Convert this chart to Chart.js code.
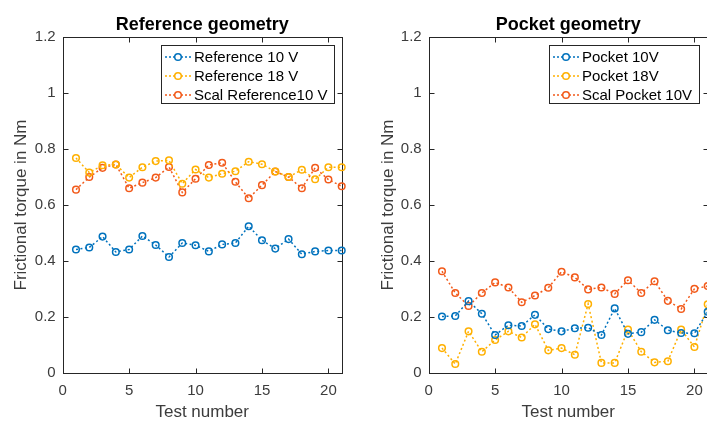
<!DOCTYPE html>
<html><head><meta charset="utf-8">
<script src="https://cdn.jsdelivr.net/npm/chart.js@4.4.1/dist/chart.umd.min.js"></script>
<style>
html,body{margin:0;padding:0;background:#fff;overflow:hidden;width:707px;height:421px;}
#wrap{position:relative;width:707px;height:421px;overflow:hidden;background:#fff;}
.c{position:absolute;top:0;width:360px;height:421px;}
</style></head><body>
<div id="wrap">
<div class="c" style="left:0"><canvas id="left" width="360" height="421"></canvas></div>
<div class="c" style="left:360px"><canvas id="right" width="360" height="421"></canvas></div>
</div>
<script>
// ---- data ----
const testNumbers = [1,2,3,4,5,6,7,8,9,10,11,12,13,14,15,16,17,18,19,20,21];
const xTickValues = [0,5,10,15,20];
const yTickValues = [0,0.2,0.4,0.6,0.8,1,1.2];

const leftTitle = 'Reference geometry';
const rightTitle = 'Pocket geometry';
const xAxisTitle = 'Test number';
const yAxisTitle = 'Frictional torque in Nm';

const leftLabels = ['Reference 10 V','Reference 18 V','Scal Reference10 V'];
const rightLabels = ['Pocket 10V','Pocket 18V','Scal Pocket 10V'];

const reference10V = [0.441,0.448,0.487,0.432,0.441,0.489,0.457,0.414,0.464,0.456,0.434,0.459,0.464,0.524,0.474,0.444,0.478,0.424,0.434,0.437,0.437];
const reference18V = [0.768,0.716,0.742,0.745,0.698,0.735,0.757,0.760,0.676,0.727,0.698,0.712,0.721,0.755,0.746,0.720,0.700,0.726,0.692,0.735,0.735];
const scalReference10V = [0.655,0.700,0.733,0.745,0.660,0.680,0.698,0.736,0.645,0.694,0.743,0.751,0.683,0.624,0.671,0.720,0.700,0.660,0.733,0.691,0.667];

const pocket10V = [0.201,0.203,0.256,0.211,0.135,0.170,0.167,0.207,0.156,0.148,0.159,0.161,0.135,0.230,0.139,0.145,0.189,0.152,0.142,0.141,0.218];
const pocket18V = [0.088,0.031,0.148,0.075,0.117,0.148,0.126,0.173,0.080,0.088,0.064,0.246,0.035,0.035,0.154,0.075,0.037,0.041,0.154,0.092,0.245];
const scalPocket10V = [0.363,0.285,0.239,0.285,0.323,0.305,0.252,0.276,0.304,0.361,0.341,0.298,0.305,0.282,0.331,0.285,0.327,0.257,0.228,0.300,0.310];

const seriesColors = ['#0072BD','#FFB000','#F25A1A'];
// ---------------

const FONT = '"Liberation Sans", Arial, Helvetica, sans-serif';
Chart.defaults.font.family = FONT;
const AX = '#262626';
const TXT = '#3c3c3c';

const framePlugin = {
  id: 'frame',
  beforeDatasetsDraw(chart) {
    const ctx = chart.ctx, a = chart.chartArea;
    const xs = chart.scales.x, ys = chart.scales.y;
    ctx.save();
    ctx.strokeStyle = AX; ctx.lineWidth = 1;
    const L = Math.round(a.left)+0.5, R = Math.round(a.right)+0.5, T = Math.round(a.top)+0.5, B = Math.round(a.bottom)+0.5;
    ctx.strokeRect(L, T, R-L, B-T);
    ctx.beginPath();
    xTickValues.forEach(v => {
      const px = Math.round(xs.getPixelForValue(v))+0.5;
      ctx.moveTo(px, B); ctx.lineTo(px, B-5);
      ctx.moveTo(px, T); ctx.lineTo(px, T+5);
    });
    yTickValues.forEach(v => {
      const py = Math.round(ys.getPixelForValue(v))+0.5;
      ctx.moveTo(L, py); ctx.lineTo(L+5, py);
      ctx.moveTo(R, py); ctx.lineTo(R-5, py);
    });
    ctx.stroke();
    ctx.restore();
  }
};

const titlePlugin = {
  id: 'areaTitle',
  afterDraw(chart, args, opts) {
    const ctx = chart.ctx, a = chart.chartArea;
    ctx.save();
    ctx.font = 'bold 18px ' + FONT;
    ctx.fillStyle = '#000';
    ctx.textAlign = 'center';
    ctx.textBaseline = 'alphabetic';
    ctx.fillText(opts.text, (a.left + a.right) / 2, 30);
    ctx.restore();
  }
};

const legendPlugin = {
  id: 'matlabLegend',
  afterDatasetsDraw(chart, args, opts) {
    const ctx = chart.ctx, a = chart.chartArea;
    const ds = chart.data.datasets;
    ctx.save();
    ctx.font = '15px ' + FONT;
    const tw = Math.max(...ds.map(d => ctx.measureText(d.label).width));
    const w = Math.round(37 + tw + 3), h = 58;
    const x0 = Math.round(a.right - opts.inset - w), y0 = Math.round(a.top + 7.5);
    ctx.fillStyle = '#fff';
    ctx.fillRect(x0, y0, w, h);
    ctx.strokeStyle = AX; ctx.lineWidth = 1;
    ctx.strokeRect(x0+0.5, y0+0.5, w, h);
    ds.forEach((d, i) => {
      const yy = y0 + 12 + i*19;
      ctx.strokeStyle = d.borderColor; ctx.lineWidth = 1.5;
      ctx.setLineDash([2,2]);
      ctx.beginPath(); ctx.moveTo(x0+4, yy); ctx.lineTo(x0+30, yy); ctx.stroke();
      ctx.setLineDash([]);
      ctx.beginPath(); ctx.arc(x0+17, yy, 3.3, 0, Math.PI*2);
      ctx.fillStyle = '#fff'; ctx.fill(); ctx.stroke();
      ctx.fillStyle = '#000'; ctx.textBaseline = 'middle'; ctx.textAlign = 'left';
      ctx.fillText(d.label, x0+33, yy+1);
    });
    ctx.restore();
  }
};

function makeChart(id, title, labels, series, opt) {
  const datasets = series.map((vals, i) => ({
    label: labels[i],
    data: testNumbers.map((x, k) => ({x: x, y: vals[k]})),
    borderColor: seriesColors[i],
    backgroundColor: 'rgba(255,255,255,0)',
    borderWidth: 1.5,
    borderDash: [2, 2.5],
    pointRadius: 3.3,
    pointBorderWidth: 1.5,
    pointBackgroundColor: 'rgba(255,255,255,0)',
    pointBorderColor: seriesColors[i],
    tension: 0,
    clip: false
  }));
  return new Chart(document.getElementById(id), {
    type: 'line',
    data: { datasets },
    plugins: [framePlugin, legendPlugin, titlePlugin],
    options: {
      responsive: false,
      animation: false,
      events: [],
      layout: { padding: { left: 0, right: opt.rightPad, top: 37.3, bottom: 0 } },
      plugins: {
        legend: { display: false },
        tooltip: { enabled: false },
        title: { display: false },
        areaTitle: { text: title },
        matlabLegend: { inset: opt.legendInset }
      },
      scales: {
        x: {
          type: 'linear', min: 0, max: 21,
          afterBuildTicks: s => { s.ticks = xTickValues.map(v => ({value: v})); },
          afterFit: s => { s.height = 48.3; },
          grid: { display: false, drawTicks: false },
          border: { display: false },
          ticks: { color: TXT, font: { size: 15 }, padding: 9, maxRotation: 0, autoSkip: false },
          title: { display: true, text: xAxisTitle, color: TXT, font: { size: 17 }, padding: { top: 0, bottom: -2 } }
        },
        y: {
          type: 'linear', min: 0, max: 1.2,
          afterBuildTicks: s => { s.ticks = yTickValues.map(v => ({value: v})); },
          afterFit: s => { s.width = opt.yWidth; },
          grid: { display: false, drawTicks: false },
          border: { display: false },
          ticks: { color: TXT, font: { size: 15 }, padding: 7, autoSkip: false,
                   callback: v => String(Math.round(v*10)/10) },
          title: { display: true, text: yAxisTitle, color: TXT, font: { size: 17 }, padding: { top: opt.yTitlePad, bottom: 0 } }
        }
      }
    }
  });
}

makeChart('left', leftTitle, leftLabels, [reference10V, reference18V, scalReference10V],
  { rightPad: 18.3, yWidth: 62.7, yTitlePad: 10.8, legendInset: 7.5 });
makeChart('right', rightTitle, rightLabels, [pocket10V, pocket18V, scalPocket10V],
  { rightPad: 12.3, yWidth: 68.7, yTitlePad: 17.8, legendInset: 8.5 });
</script>
</body></html>
